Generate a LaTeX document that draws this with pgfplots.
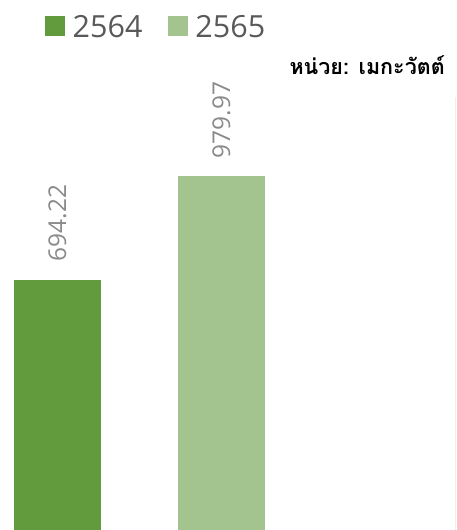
\documentclass[border=0pt]{standalone}
\usepackage{fontspec}
\usepackage{pgfplots}
\pgfplotsset{compat=1.18}
\setmainfont{Open Sans}
\newfontfamily\thaifont[Script=Thai]{Loma}
\definecolor{darkg}{HTML}{629A3E}
\definecolor{lightg}{HTML}{A3C48F}
\definecolor{lbl}{HTML}{8A8A8A}
\definecolor{leg}{HTML}{595959}
\definecolor{edge}{HTML}{EEEEEE}
\begin{document}
\begin{tikzpicture}
\begin{axis}[
    scale only axis,
    width=457pt, height=530pt,
    xmin=0, xmax=457, ymin=0, ymax=1469,
    axis lines=none,
    clip=false,
    ybar, bar width=87, bar shift=0pt,
    nodes near coords={\pgfmathprintnumber[fixed,fixed zerofill,precision=2,assume math mode=true]{\pgfplotspointmeta}},
    nodes near coords style={rotate=90, anchor=west, inner xsep=18pt, inner ysep=0pt,
        text=lbl, font=\fontsize{24.5}{28}\selectfont},
    legend columns=2,
    legend style={draw=none, fill=none, inner sep=0pt,
        at={(axis description cs:0.0985,0.949)}, anchor=west,
        font=\fontsize{30.5}{34}\selectfont, text=leg,
        nodes={inner xsep=7.5pt, inner ysep=0pt},
        /tikz/every even column/.append style={column sep=18pt}},
    legend image code/.code={\fill[#1] (0pt,-9pt) rectangle (20pt,11pt);},
]
\addplot[fill=darkg, draw=none] coordinates {(57.5,694.22)};
\addlegendentry{2564}
\addplot[fill=lightg, draw=none] coordinates {(221.5,979.97)};
\addlegendentry{2565}

\draw[edge, line width=1pt] (axis cs:455,0) -- (axis cs:455,1200);
\node[anchor=east, inner sep=0pt, font=\thaifont\bfseries\fontsize{21.5}{25}\selectfont]
    at (axis description cs:0.9737,0.8774) {หน่วย: เมกะวัตต์};
\end{axis}
\pgfresetboundingbox
\path[use as bounding box] (current axis.south west) rectangle (current axis.north east);
\end{tikzpicture}
\end{document}
